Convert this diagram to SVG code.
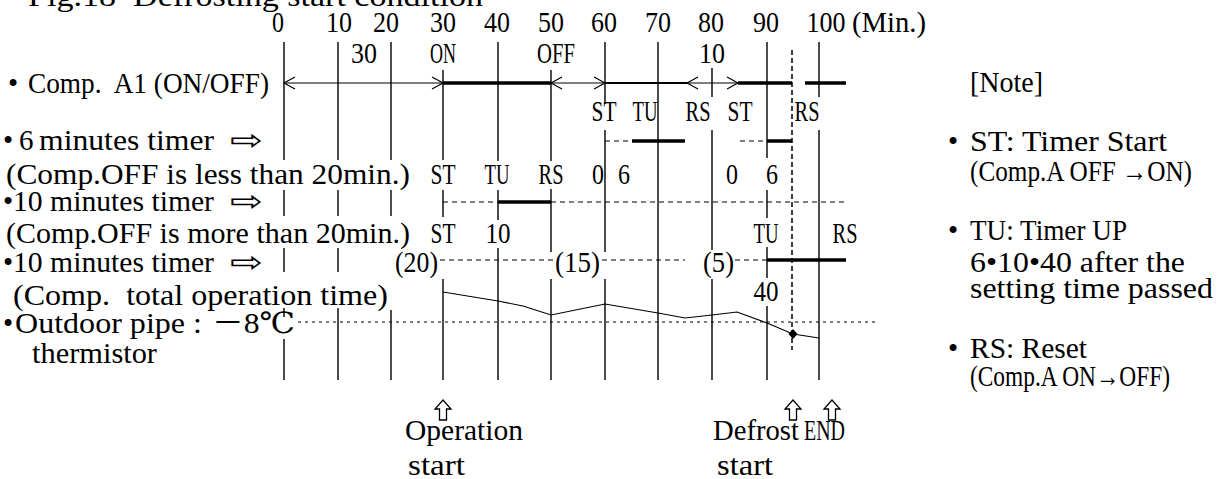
<svg xmlns="http://www.w3.org/2000/svg" width="1226" height="479" viewBox="0 0 1226 479">
<style>
text{font-family:"Liberation Serif","DejaVu Serif","DejaVu Sans","Noto Sans CJK JP",serif;font-size:29px;fill:#000}
.m{text-anchor:middle}
.ar{font-family:"DejaVu Sans","Noto Sans CJK JP",sans-serif}
.up{fill:#fff;stroke:#000;stroke-width:1.3;stroke-linejoin:miter}
.v{stroke:#000;stroke-width:1.4;fill:none}
.thin{stroke:#000;stroke-width:1.2;fill:none}
.med{stroke:#000;stroke-width:2.2;fill:none}
.thick{stroke:#000;stroke-width:3.5;fill:none}
.dash{stroke:#000;stroke-width:1.2;stroke-dasharray:5 4;fill:none}
.dot{stroke:#000;stroke-width:1.2;stroke-dasharray:3 4;fill:none}
.vdash{stroke:#000;stroke-width:1.5;stroke-dasharray:5 3;fill:none}
</style>
<defs>
<polygon id="uparrow" class="up" points="0,0 -8,9 -3.5,9 -3.5,20 3.5,20 3.5,9 8,9"/>
</defs>
<rect width="1226" height="479" fill="#fff"/>

<g id="title">
<text x="28" y="6" textLength="455" lengthAdjust="spacingAndGlyphs" xml:space="preserve">Fig.18  Defrosting start condition</text>
</g>

<g id="connectors">
<g id="grid">
<path class="v" d="M284 42V160M284 190V216M284 248V272M284 308V317M284 339V380"/>
<path class="v" d="M338 42V160M338 190V216M338 248V272M338 308V380"/>
<path class="v" d="M391 42V160M391 190V216M391 310V380"/>
<path class="v" d="M443 70V160M443 190V217M443 279V380"/>
<path class="v" d="M498 42V161M498 190V220M498 248V380"/>
<path class="v" d="M551 70V161M551 189V252M551 279V380"/>
<path class="v" d="M605 42V104M605 130V252M605 279V380"/>
<path class="v" d="M658 42V380"/>
<path class="v" d="M712 68V97M712 130V250M712 279V380"/>
<path class="v" d="M767 42V158M767 190V218M767 247V278M767 306V380"/>
<path class="v" d="M819 42V97M819 130V380"/>
<line class="vdash" x1="792" y1="50" x2="792" y2="350"/>
</g>
<g id="comp-row">
<line class="thin" x1="284" y1="83" x2="443" y2="83"/>
<polyline class="thin" points="295,77 284,83 295,89"/>
<polyline class="thin" points="432,77 443,83 432,89"/>
<line class="thick" x1="443" y1="83" x2="551" y2="83"/>
<line class="thin" x1="551" y1="83" x2="605" y2="83"/>
<polyline class="thin" points="562,77 551,83 562,89"/>
<polyline class="thin" points="594,77 605,83 594,89"/>
<line class="med" x1="605" y1="83" x2="687" y2="83"/>
<line class="thin" x1="687" y1="83" x2="738" y2="83"/>
<polyline class="thin" points="698,77 687,83 698,89"/>
<polyline class="thin" points="727,77 738,83 727,89"/>
<line class="thick" x1="738" y1="83" x2="792" y2="83"/>
<line class="thick" x1="805" y1="83" x2="846" y2="83"/>
</g>
<g id="timer6-row">
<line class="dash" x1="605" y1="141" x2="632" y2="141"/>
<line class="thick" x1="632" y1="141" x2="685" y2="141"/>
<line class="dash" x1="740" y1="141" x2="767" y2="141"/>
<line class="thick" x1="767" y1="141" x2="792" y2="141"/>
</g>
<g id="timer10-row">
<line class="dash" x1="443" y1="202" x2="498" y2="202"/>
<line class="thick" x1="498" y1="202" x2="551" y2="202"/>
<line class="dash" x1="551" y1="202" x2="846" y2="202"/>
</g>
<g id="total-row">
<line class="dash" x1="440" y1="260" x2="553" y2="260"/>
<line class="dash" x1="602" y1="260" x2="685" y2="260"/>
<line class="dash" x1="735" y1="260" x2="767" y2="260"/>
<line class="thick" x1="767" y1="260" x2="846" y2="260"/>
</g>
<g id="pipe-row">
<line class="dot" x1="298" y1="322" x2="876" y2="322"/>
<polyline class="thin" points="443,292 498,301 523,306 551,315 605,304 658,313 685,318 712,315 737,312 767,323 793,334 819,338"/>
<polygon points="793,329 797.5,334 793,339 788.5,334" fill="#000"/>
</g>
</g>

<g id="axis-labels">
<text class="m" x="278" y="32" textLength="12" lengthAdjust="spacingAndGlyphs">0</text>
<text class="m" x="339" y="32" textLength="26" lengthAdjust="spacingAndGlyphs">10</text>
<text class="m" x="386" y="32" textLength="26" lengthAdjust="spacingAndGlyphs">20</text>
<text class="m" x="443" y="32" textLength="26" lengthAdjust="spacingAndGlyphs">30</text>
<text class="m" x="497" y="32" textLength="26" lengthAdjust="spacingAndGlyphs">40</text>
<text class="m" x="551" y="32" textLength="26" lengthAdjust="spacingAndGlyphs">50</text>
<text class="m" x="604" y="32" textLength="26" lengthAdjust="spacingAndGlyphs">60</text>
<text class="m" x="658" y="32" textLength="26" lengthAdjust="spacingAndGlyphs">70</text>
<text class="m" x="711" y="32" textLength="26" lengthAdjust="spacingAndGlyphs">80</text>
<text class="m" x="766" y="32" textLength="26" lengthAdjust="spacingAndGlyphs">90</text>
<text class="m" x="826" y="32" textLength="39" lengthAdjust="spacingAndGlyphs">100</text>
<text x="852" y="32" textLength="74" lengthAdjust="spacingAndGlyphs">(Min.)</text>
</g>

<g id="comp-a1">
<text x="8" y="93">•</text>
<text x="28" y="93" textLength="241" lengthAdjust="spacingAndGlyphs" xml:space="preserve">Comp.  A1 (ON/OFF)</text>
<text class="m" x="364" y="63" textLength="26" lengthAdjust="spacingAndGlyphs">30</text>
<text class="m" x="443" y="63" textLength="26" lengthAdjust="spacingAndGlyphs">ON</text>
<text class="m" x="556" y="63" textLength="38" lengthAdjust="spacingAndGlyphs">OFF</text>
<text class="m" x="712" y="63" textLength="26" lengthAdjust="spacingAndGlyphs">10</text>
<text class="m" x="604" y="121" textLength="25" lengthAdjust="spacingAndGlyphs">ST</text>
<text class="m" x="645" y="121" textLength="25" lengthAdjust="spacingAndGlyphs">TU</text>
<text class="m" x="698" y="121" textLength="25" lengthAdjust="spacingAndGlyphs">RS</text>
<text class="m" x="740" y="121" textLength="25" lengthAdjust="spacingAndGlyphs">ST</text>
<text class="m" x="807" y="121" textLength="25" lengthAdjust="spacingAndGlyphs">RS</text>
</g>

<g id="timer6">
<text x="3" y="150">•</text>
<text x="19" y="150">6</text>
<text x="39" y="150" textLength="175" lengthAdjust="spacingAndGlyphs">minutes timer</text>
<text class="ar" x="230" y="150" textLength="33" lengthAdjust="spacingAndGlyphs">⇨</text>
<text x="6" y="184" textLength="404" lengthAdjust="spacingAndGlyphs">(Comp.OFF is less than 20min.)</text>
<text class="m" x="443" y="184" textLength="25" lengthAdjust="spacingAndGlyphs">ST</text>
<text class="m" x="497" y="184" textLength="25" lengthAdjust="spacingAndGlyphs">TU</text>
<text class="m" x="551" y="184" textLength="25" lengthAdjust="spacingAndGlyphs">RS</text>
<text class="m" x="598" y="184" textLength="12" lengthAdjust="spacingAndGlyphs">0</text>
<text class="m" x="624" y="184" textLength="12" lengthAdjust="spacingAndGlyphs">6</text>
<text class="m" x="732" y="184" textLength="12" lengthAdjust="spacingAndGlyphs">0</text>
<text class="m" x="772" y="184" textLength="12" lengthAdjust="spacingAndGlyphs">6</text>
</g>

<g id="timer10-off">
<text x="3" y="211">•</text>
<text x="13" y="211" textLength="201" lengthAdjust="spacingAndGlyphs">10 minutes timer</text>
<text class="ar" x="230" y="211" textLength="33" lengthAdjust="spacingAndGlyphs">⇨</text>
<text x="6" y="243" textLength="404" lengthAdjust="spacingAndGlyphs">(Comp.OFF is more than 20min.)</text>
<text class="m" x="443" y="243" textLength="25" lengthAdjust="spacingAndGlyphs">ST</text>
<text class="m" x="498" y="243" textLength="25" lengthAdjust="spacingAndGlyphs">10</text>
<text class="m" x="766" y="243" textLength="25" lengthAdjust="spacingAndGlyphs">TU</text>
<text class="m" x="845" y="243" textLength="25" lengthAdjust="spacingAndGlyphs">RS</text>
</g>

<g id="timer10-total">
<text x="3" y="272">•</text>
<text x="13" y="272" textLength="201" lengthAdjust="spacingAndGlyphs">10 minutes timer</text>
<text class="ar" x="230" y="272" textLength="33" lengthAdjust="spacingAndGlyphs">⇨</text>
<text x="395" y="272" textLength="43" lengthAdjust="spacingAndGlyphs">(20)</text>
<text x="555" y="272" textLength="45" lengthAdjust="spacingAndGlyphs">(15)</text>
<text x="703" y="272" textLength="31" lengthAdjust="spacingAndGlyphs">(5)</text>
<text x="13" y="305" textLength="375" lengthAdjust="spacingAndGlyphs" xml:space="preserve">(Comp.  total operation time)</text>
<text class="m" x="766" y="301" textLength="25" lengthAdjust="spacingAndGlyphs">40</text>
</g>

<g id="outdoor-pipe">
<text x="3" y="333">•</text>
<text x="15" y="333" textLength="187" lengthAdjust="spacingAndGlyphs">Outdoor pipe :</text>
<text x="212" y="333" textLength="83" lengthAdjust="spacingAndGlyphs">－8℃</text>
<text x="32" y="363" textLength="125" lengthAdjust="spacingAndGlyphs">thermistor</text>
</g>

<g id="operation-start">
<use href="#uparrow" x="443" y="400"/>
<text x="405" y="440" textLength="118" lengthAdjust="spacingAndGlyphs">Operation</text>
<text x="408" y="475" textLength="57" lengthAdjust="spacingAndGlyphs">start</text>
</g>
<g id="defrost-start">
<use href="#uparrow" x="793" y="400"/>
<text x="713" y="440" textLength="86" lengthAdjust="spacingAndGlyphs">Defrost</text>
<text x="717" y="475" textLength="56" lengthAdjust="spacingAndGlyphs">start</text>
</g>
<g id="defrost-end">
<use href="#uparrow" x="832" y="400"/>
<text x="804" y="440" textLength="41" lengthAdjust="spacingAndGlyphs">END</text>
</g>

<g id="note">
<text x="970" y="92" textLength="73" lengthAdjust="spacingAndGlyphs">[Note]</text>
<text x="948" y="151">•</text>
<text x="970" y="151" textLength="197" lengthAdjust="spacingAndGlyphs">ST: Timer Start</text>
<text x="970" y="181" textLength="222" lengthAdjust="spacingAndGlyphs">(Comp.A OFF →ON)</text>
<text x="948" y="240">•</text>
<text x="970" y="240" textLength="157" lengthAdjust="spacingAndGlyphs">TU: Timer UP</text>
<text x="970" y="272" textLength="215" lengthAdjust="spacingAndGlyphs">6•10•40 after the</text>
<text x="970" y="298" textLength="243" lengthAdjust="spacingAndGlyphs">setting time passed</text>
<text x="948" y="358">•</text>
<text x="970" y="358" textLength="117" lengthAdjust="spacingAndGlyphs">RS: Reset</text>
<text x="970" y="386" textLength="200" lengthAdjust="spacingAndGlyphs">(Comp.A ON→OFF)</text>
</g>
</svg>
